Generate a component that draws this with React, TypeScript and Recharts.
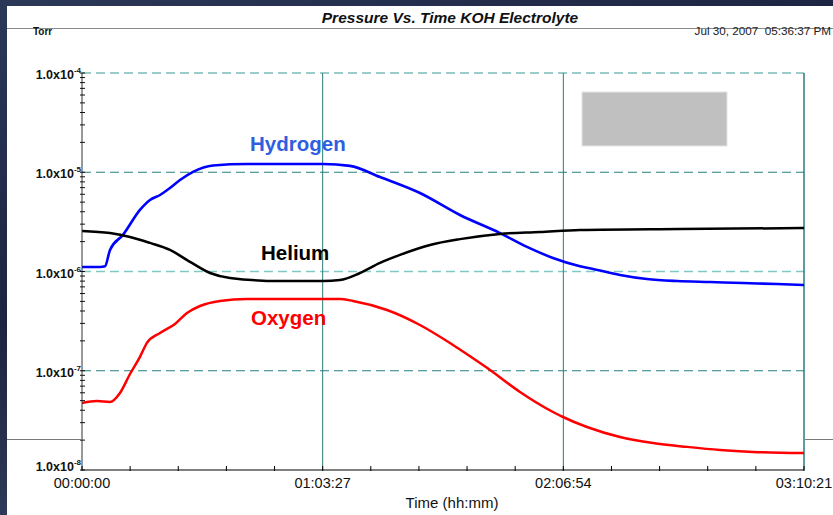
import React from 'react';
import { LineChart, Line, XAxis, YAxis, ReferenceLine } from 'recharts';

// time in seconds from start, pressure in Torr
const hydrogenTime = [0, 285, 364, 443, 649, 917, 1076, 1234, 1392, 1550, 1756, 2072, 2610, 3812, 4239, 4714, 5346, 5979, 6612, 7039, 7450, 7877, 8083, 8510, 8937, 9412, 9934, 10456, 10994, 11421];
const hydrogenTorr = [1.11e-6, 1.11e-6, 1.13e-6, 1.65e-6, 2.34e-6, 4.17e-6, 5.25e-6, 5.9e-6, 6.94e-6, 8.35e-6, 1.01e-5, 1.17e-5, 1.21e-5, 1.21e-5, 1.16e-5, 8.95e-6, 6.18e-6, 3.71e-6, 2.44e-6, 1.77e-6, 1.37e-6, 1.13e-6, 1.06e-6, 9.23e-7, 8.39e-7, 8.01e-7, 7.83e-7, 7.65e-7, 7.48e-7, 7.31e-7];

const heliumTime = [0, 443, 759, 1076, 1392, 1708, 2025, 2341, 3132, 3812, 4081, 4397, 4714, 5030, 5505, 5979, 6612, 7245, 7877, 9459, 11421];
const heliumTorr = [2.56e-6, 2.44e-6, 2.23e-6, 1.94e-6, 1.65e-6, 1.25e-6, 9.66e-7, 8.61e-7, 8.01e-7, 8.01e-7, 8.2e-7, 9.66e-7, 1.22e-6, 1.47e-6, 1.85e-6, 2.12e-6, 2.39e-6, 2.5e-6, 2.62e-6, 2.68e-6, 2.74e-6];

const oxygenTime = [0, 237, 443, 601, 759, 917, 1028, 1234, 1471, 1661, 1867, 2183, 2610, 4081, 4287, 4825, 5346, 5868, 6406, 6928, 7450, 7608, 7988, 8510, 9032, 9570, 10092, 10614, 11421];
const oxygenTorr = [4.73e-8, 4.95e-8, 4.84e-8, 5.97e-8, 9.27e-8, 1.38e-7, 1.91e-7, 2.4e-7, 2.96e-7, 3.82e-7, 4.49e-7, 5.05e-7, 5.28e-7, 5.28e-7, 5.05e-7, 4.09e-7, 2.89e-7, 1.82e-7, 1.07e-7, 6.11e-8, 3.84e-8, 3.42e-8, 2.71e-8, 2.15e-8, 1.87e-8, 1.71e-8, 1.59e-8, 1.52e-8, 1.48e-8];

const xMajorTicks = [0, 3807, 7614, 11421];
const xTickLabels = ['00:00:00', '01:03:27', '02:06:54', '03:10:21'];
const yDecades = [1e-8, 1e-7, 1e-6, 1e-5, 1e-4];
const yMinorSteps = [2, 3, 4, 5, 6, 7, 8, 9];

const toData = (t: number[], p: number[]) => t.map((v, i) => ({ t: v, p: p[i] }));
const hydrogenData = toData(hydrogenTime, hydrogenTorr);
const heliumData = toData(heliumTime, heliumTorr);
const oxygenData = toData(oxygenTime, oxygenTorr);

// 4 minor ticks between each pair of major ticks
const xTicks: number[] = [];
xMajorTicks.forEach((m, i) => {
  xTicks.push(m);
  if (i < xMajorTicks.length - 1) {
    const step = (xMajorTicks[i + 1] - m) / 5;
    for (let k = 1; k < 5; k++) xTicks.push(m + step * k);
  }
});

const yTicks: number[] = [];
yDecades.forEach((d, i) => {
  yTicks.push(d);
  if (i < yDecades.length - 1) yMinorSteps.forEach(s => yTicks.push(d * s));
});

const FONT = '"Liberation Sans", Arial, Helvetica, sans-serif';

const XTick = (props: any) => {
  const { x, y, payload } = props;
  const idx = xMajorTicks.findIndex(m => Math.abs(m - payload.value) < 1);
  return (
    <g>
      <line x1={x} x2={x} y1={y - 4} y2={y + 1} stroke="#000" strokeWidth={1} />
      {idx >= 0 && (
        <text x={x} y={y + 18} textAnchor="middle" fontSize={14.5} fontFamily={FONT} fill="#111">
          {xTickLabels[idx]}
        </text>
      )}
    </g>
  );
};

const YTick = (props: any) => {
  const { x, y, payload } = props;
  const lg = Math.log10(payload.value);
  const exp = Math.round(lg);
  const isMajor = Math.abs(lg - exp) < 1e-6;
  // lowest label sits a bit higher so it clears the time labels
  const base = exp === -8 ? y + 1 : y + 6;
  return (
    <g>
      <line x1={x - 2} x2={x + 3} y1={y} y2={y} stroke="#111" strokeWidth={1} />
      {isMajor && (
        <text x={x - 1} y={base} textAnchor="end" fontSize={12.5} fontWeight="bold" fontFamily={FONT} fill="#111">
          1.0x10
          <tspan dy={-6} fontSize={8}>{exp}</tspan>
        </text>
      )}
    </g>
  );
};

const App = () => {
  return (
    <div
      style={{
        position: 'fixed',
        left: 0,
        top: 0,
        width: 833,
        height: 515,
        overflow: 'hidden',
        background: 'linear-gradient(160deg, #2c3858 0%, #1b2440 40%, #34405e 70%, #1d2743 100%)',
      }}
    >
      <div style={{ position: 'absolute', left: 7, top: 6, width: 826, height: 509, background: '#fff' }} />
      <div style={{ position: 'absolute', left: 0, top: 0 }}>
        <LineChart width={833} height={515} margin={{ top: 73, right: 29, bottom: 0, left: 0 }}>
          <XAxis
            type="number"
            dataKey="t"
            domain={[0, 11421]}
            ticks={xTicks}
            interval={0}
            height={45}
            tickSize={0}
            tickMargin={0}
            tickLine={false}
            tick={XTick}
            axisLine={{ stroke: '#000', strokeWidth: 1.2 }}
            allowDataOverflow
          />
          <YAxis
            type="number"
            scale="log"
            domain={[1e-8, 1e-4]}
            ticks={yTicks}
            interval={0}
            width={82}
            tickSize={0}
            tickMargin={0}
            tickLine={false}
            tick={YTick}
            axisLine={{ stroke: '#333', strokeWidth: 1 }}
            allowDataOverflow
          />
          <ReferenceLine y={1e-4} stroke="#3a9a96" strokeDasharray="9 5" strokeWidth={1.2} />
          <ReferenceLine y={1e-5} stroke="#23807f" strokeDasharray="9 5" strokeWidth={1.2} />
          <ReferenceLine y={1e-6} stroke="#80c8c6" strokeDasharray="9 5" strokeWidth={1.5} />
          <ReferenceLine y={1e-7} stroke="#23807f" strokeDasharray="9 5" strokeWidth={1.2} />
          <ReferenceLine x={3807} stroke="#2b7b78" strokeWidth={1} />
          <ReferenceLine x={7614} stroke="#2b7b78" strokeWidth={1} />
          <ReferenceLine x={11421} stroke="#2b7b78" strokeWidth={1.5} />
          <Line data={hydrogenData} dataKey="p" type="monotone" stroke="#0000ff" strokeWidth={2.6} dot={false} isAnimationActive={false} />
          <Line data={heliumData} dataKey="p" type="monotone" stroke="#000000" strokeWidth={2.5} dot={false} isAnimationActive={false} />
          <Line data={oxygenData} dataKey="p" type="monotone" stroke="#ff0000" strokeWidth={2.5} dot={false} isAnimationActive={false} />
        </LineChart>
      </div>
      <svg width={833} height={515} style={{ position: 'absolute', left: 0, top: 0, pointerEvents: 'none' }}>
        <line x1={7} x2={833} y1={28.5} y2={28.5} stroke="#8a8a8a" strokeWidth={1} />
        <line x1={7} x2={82} y1={439.5} y2={439.5} stroke="#7a7a7a" strokeWidth={1} />
        <line x1={805} x2={833} y1={439.5} y2={439.5} stroke="#7a7a7a" strokeWidth={1} />
        <text x={450} y={23} textAnchor="middle" fontSize={15.5} fontWeight="bold" fontStyle="italic" fontFamily={FONT} fill="#111">
          Pressure Vs. Time KOH Electrolyte
        </text>
        <text x={33} y={35} fontSize={10} fontWeight="bold" fontFamily={FONT} fill="#111">Torr</text>
        <text x={831} y={35} textAnchor="end" fontSize={11.7} fontFamily={FONT} fill="#222" style={{ whiteSpace: 'pre' }}>
          {'Jul 30, 2007  05:36:37 PM'}
        </text>
        <rect x={582} y={92} width={145} height={54} fill="#c0c0c0" stroke="#e4e4e4" strokeWidth={1} />
        <text x={250} y={151} fontSize={20.5} fontWeight="bold" fontFamily={FONT} fill="#2f5fe0">Hydrogen</text>
        <text x={261} y={260} fontSize={20.5} fontWeight="bold" fontFamily={FONT} fill="#000">Helium</text>
        <text x={251} y={325} fontSize={20.5} fontWeight="bold" fontFamily={FONT} fill="#ff0000">Oxygen</text>
        <text x={452} y={508} textAnchor="middle" fontSize={15} fontFamily={FONT} fill="#111">Time (hh:mm)</text>
      </svg>
    </div>
  );
};

export default App;
